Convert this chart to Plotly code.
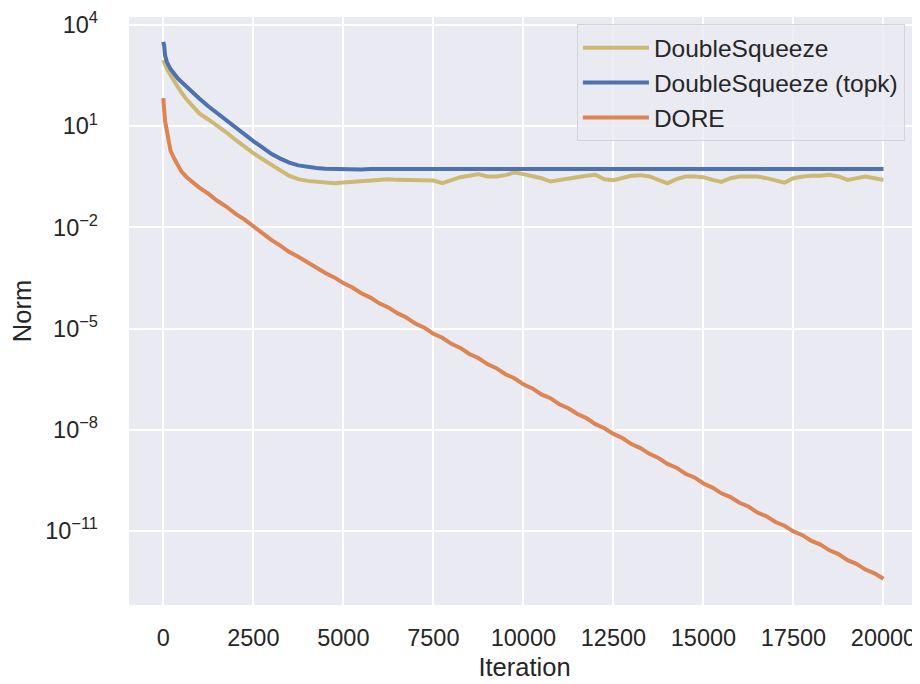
import plotly.graph_objects as go

# Iteration sample positions
iterations = [0, 25, 50, 100, 200, 300, 400, 500, 650, 800, 1000] + list(range(1250, 20001, 250))

# log10(Norm) values
doublesqueeze_log10 = [
    2.96, 2.88, 2.82, 2.70, 2.52, 2.35, 2.15, 2.00, 1.79, 1.60, 1.38,
    1.20, 1.02, 0.82, 0.60, 0.39, 0.20, 0.03, -0.15, -0.31, -0.47, -0.57, -0.62, -0.65, -0.67, -0.69, -0.67,
    -0.65, -0.63, -0.61, -0.57, -0.57, -0.59, -0.59, -0.59, -0.61, -0.61,
    -0.69, -0.61, -0.51, -0.47, -0.42, -0.49, -0.49, -0.45, -0.37, -0.42,
    -0.47, -0.54, -0.64, -0.59, -0.54, -0.51, -0.47, -0.44, -0.57, -0.60,
    -0.54, -0.47, -0.45, -0.49, -0.59, -0.69, -0.57, -0.49, -0.49, -0.51,
    -0.59, -0.65, -0.54, -0.49, -0.49, -0.49, -0.54, -0.61, -0.67, -0.54,
    -0.49, -0.47, -0.47, -0.44, -0.49, -0.59, -0.54, -0.49, -0.54, -0.59,
]

topk_log10 = [
    3.50, 3.38, 3.10, 2.90, 2.70, 2.55, 2.42, 2.32, 2.16, 2.02, 1.82,
    1.59, 1.38, 1.16, 0.95, 0.75, 0.56, 0.37, 0.18, 0.04, -0.08, -0.16, -0.21, -0.24, -0.26, -0.27, -0.27,
    -0.27, -0.28, -0.27, -0.27, -0.26, -0.27, -0.28, -0.27, -0.27, -0.28,
    -0.27, -0.27, -0.26, -0.27, -0.28, -0.27, -0.27, -0.27, -0.28, -0.27,
    -0.27, -0.26, -0.27, -0.28, -0.27, -0.27, -0.27, -0.28, -0.27, -0.27,
    -0.26, -0.27, -0.27, -0.28, -0.27, -0.27, -0.27, -0.28, -0.27, -0.26,
    -0.27, -0.27, -0.28, -0.27, -0.27, -0.27, -0.28, -0.27, -0.27, -0.26,
    -0.27, -0.28, -0.27, -0.27, -0.27, -0.28, -0.27, -0.27, -0.27, -0.27,
]

dore_log10 = [
    1.83, 1.40, 1.15, 0.87, 0.28, 0.05, -0.18, -0.34, -0.51, -0.66, -0.82,
    -1.00, -1.21, -1.38, -1.59, -1.76, -1.97, -2.15, -2.37, -2.54, -2.73, -2.87, -3.04, -3.18, -3.35, -3.48, -3.65,
    -3.78, -3.95, -4.08, -4.25, -4.37, -4.54, -4.67, -4.85, -4.97, -5.15,
    -5.27, -5.45, -5.57, -5.75, -5.87, -6.05, -6.17, -6.35, -6.47, -6.65,
    -6.77, -6.95, -7.06, -7.24, -7.36, -7.53, -7.65, -7.83, -7.95, -8.12,
    -8.24, -8.42, -8.54, -8.71, -8.83, -9.01, -9.12, -9.30, -9.41, -9.59,
    -9.71, -9.88, -9.99, -10.16, -10.27, -10.45, -10.56, -10.73, -10.84, -11.01,
    -11.12, -11.29, -11.40, -11.57, -11.68, -11.86, -11.97, -12.14, -12.25, -12.41,
]

y_tick_vals = [1e4, 1e1, 1e-2, 1e-5, 1e-8, 1e-11]
y_tick_text = ["10<sup>4</sup>", "10<sup>1</sup>", "10<sup>\u22122</sup>",
               "10<sup>\u22125</sup>", "10<sup>\u22128</sup>", "10<sup>\u221211</sup>"]
x_tick_vals = [0, 2500, 5000, 7500, 10000, 12500, 15000, 17500, 20000]
x_tick_text = [str(v) for v in x_tick_vals]

series = [
    ("DoubleSqueeze", doublesqueeze_log10, "#CCB974"),
    ("DoubleSqueeze (topk)", topk_log10, "#4C72B0"),
    ("DORE", dore_log10, "#DD8452"),
]

fig = go.Figure()
for name, vals, color in series:
    fig.add_trace(go.Scatter(
        x=iterations[:len(vals)], y=[10 ** v for v in vals], mode="lines", name=name,
        legendgroup=name, line=dict(color=color, width=4),
    ))

font_family = "Liberation Sans, Arial, sans-serif"
text_color = "#262626"

# The page body adds an 8 px offset, so the figure is 8 px smaller and margins compensate
fig.update_layout(
    width=912, height=676,
    margin=dict(l=121, r=0, t=9, b=79, autoexpand=False),
    paper_bgcolor="white", plot_bgcolor="#EAEAF2",
    font=dict(family=font_family, size=23.5, color=text_color),
    showlegend=True,
    legend=dict(
        x=0.566, y=0.988, xanchor="left", yanchor="top",
        bgcolor="rgba(234,234,242,0.8)", bordercolor="#D3D3DA", borderwidth=1.2,
        font=dict(size=24.5, color=text_color), tracegroupgap=0, itemwidth=66,
    ),
    xaxis=dict(
        range=[-952, 21014], tickvals=x_tick_vals, ticktext=x_tick_text,
        showgrid=True, gridcolor="white", gridwidth=1.8, zeroline=False, showline=False,
        ticks="", ticklabelstandoff=16, automargin=False,
        title=dict(text="Iteration", font=dict(size=25.5, color=text_color), standoff=8),
    ),
    yaxis=dict(
        type="log", range=[-13.19, 4.237], tickvals=y_tick_vals, ticktext=y_tick_text,
        showgrid=True, gridcolor="white", gridwidth=1.8, zeroline=False, showline=False,
        ticks="", ticklabelstandoff=30, automargin=False,
        title=dict(text="Norm", font=dict(size=25.5, color=text_color), standoff=13),
    ),
)

fig.write_html("out.html")
